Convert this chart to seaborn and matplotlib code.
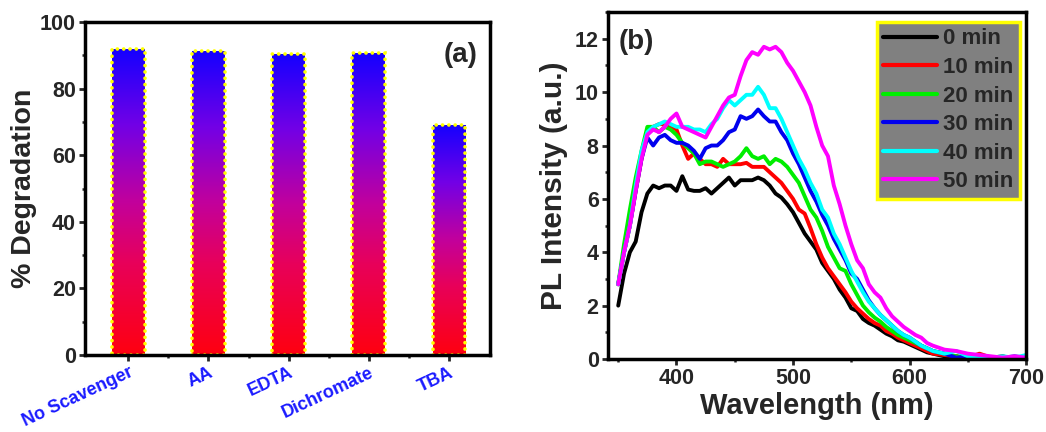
import numpy as np
import pandas as pd
import seaborn as sns
import matplotlib.pyplot as plt
from matplotlib.colors import LinearSegmentedColormap
from matplotlib.ticker import MultipleLocator, FixedLocator

# panel (a): scavenger test
categories = ['No Scavenger', 'AA', 'EDTA', 'Dichromate', 'TBA']
degradation = [92.0, 91.3, 90.5, 90.6, 69.2]

# panel (b): PL spectra
wavelength = [350, 355, 360, 365, 370, 375, 380, 385, 390, 395,
              400, 405, 410, 415, 420, 425, 430, 435, 440, 445,
              450, 455, 460, 465, 470, 475, 480, 485, 490, 495,
              500, 505, 510, 515, 520, 525, 530, 535, 540, 545,
              550, 555, 560, 565, 570, 575, 580, 585, 590, 595,
              600, 605, 610, 615, 620,
              630, 640, 650, 660, 670, 680, 690, 700]
pl_0 = [2.0, 3.2, 4.0, 4.4, 5.5, 6.2, 6.5, 6.4, 6.5, 6.5,
        6.3, 6.85, 6.35, 6.3, 6.3, 6.4, 6.2, 6.4, 6.6, 6.8,
        6.5, 6.7, 6.7, 6.7, 6.8, 6.7, 6.5, 6.2, 6.05, 5.8,
        5.5, 5.1, 4.7, 4.4, 4.1, 3.6, 3.3, 3.0, 2.6, 2.3,
        1.9, 1.8, 1.5, 1.35, 1.25, 1.1, 0.95, 0.85, 0.7, 0.65,
        0.55, 0.45, 0.35, 0.25, 0.2,
        0.1, 0.1, 0.0, 0.05, 0.05, 0.1, 0.0, 0.05]
pl_10 = [2.8, 4.0, 5.0, 6.3, 7.5, 8.5, 8.7, 8.8, 8.8, 8.7,
         8.6, 8.0, 7.5, 7.7, 7.5, 7.3, 7.3, 7.2, 7.5, 7.3,
         7.3, 7.3, 7.35, 7.2, 7.2, 7.2, 7.0, 6.8, 6.6, 6.3,
         6.0, 5.6, 5.45, 4.9, 4.3, 3.8, 3.4, 3.1, 2.8, 2.5,
         2.15, 1.9, 1.7, 1.5, 1.35, 1.25, 1.05, 0.95, 0.8, 0.7,
         0.6, 0.5, 0.4, 0.3, 0.2,
         0.15, 0.1, 0.05, 0.2, 0.05, 0.05, 0.0, 0.05]
pl_20 = [2.8, 4.3, 5.6, 6.8, 7.8, 8.7, 8.7, 8.5, 8.7, 8.6,
         8.4, 8.1, 7.9, 7.7, 7.3, 7.4, 7.4, 7.3, 7.2, 7.3,
         7.4, 7.6, 7.9, 7.6, 7.5, 7.6, 7.3, 7.5, 7.4, 7.2,
         6.9, 6.6, 6.1, 5.6, 5.3, 4.8, 4.2, 3.8, 3.4, 3.3,
         2.8, 2.4, 2.0, 1.75, 1.55, 1.4, 1.2, 1.05, 0.9, 0.8,
         0.7, 0.6, 0.5, 0.4, 0.3,
         0.2, 0.1, 0.05, 0.1, 0.05, 0.05, 0.05, 0.05]
pl_30 = [2.8, 4.0, 5.0, 6.3, 7.5, 8.3, 8.0, 8.3, 8.4, 8.2,
         8.1, 8.1, 8.0, 7.8, 7.5, 7.9, 8.0, 8.0, 8.2, 8.5,
         8.6, 9.1, 9.0, 9.1, 9.35, 9.1, 8.9, 8.9, 8.5, 8.2,
         7.7, 7.3, 6.8, 6.3, 5.9, 5.4, 5.0, 4.5, 4.1, 3.7,
         3.2, 3.0, 2.6, 2.2, 1.9, 1.65, 1.45, 1.25, 1.05, 0.9,
         0.8, 0.65, 0.5, 0.4, 0.3,
         0.2, 0.05, 0.1, 0.0, 0.05, 0.05, 0.1, 0.05]
pl_40 = [2.8, 4.0, 5.0, 6.5, 7.8, 8.5, 8.7, 8.8, 8.9, 8.8,
         8.7, 8.7, 8.7, 8.6, 8.6, 8.5, 8.8, 9.0, 9.4, 9.7,
         9.5, 9.7, 9.9, 9.9, 10.2, 9.9, 9.4, 9.4, 9.0, 8.5,
         8.0, 7.5, 7.1, 6.6, 6.2, 5.6, 5.3, 4.7, 4.3, 3.8,
         3.3, 2.9, 2.5, 2.15, 1.9, 1.65, 1.45, 1.25, 1.05, 0.9,
         0.8, 0.65, 0.5, 0.4, 0.3,
         0.2, 0.3, 0.1, 0.1, 0.05, 0.1, 0.05, 0.15]
pl_50 = [2.8, 4.0, 5.0, 6.3, 7.5, 8.4, 8.6, 8.5, 8.7, 9.0,
         9.2, 8.7, 8.6, 8.5, 8.4, 8.3, 8.7, 9.1, 9.5, 9.8,
         9.9, 10.6, 11.2, 11.5, 11.4, 11.7, 11.6, 11.7, 11.5, 11.1,
         10.8, 10.4, 10.0, 9.5, 8.7, 8.0, 7.6, 6.5, 5.8, 5.0,
         4.3, 3.7, 3.4, 2.8, 2.5, 2.3, 1.9, 1.6, 1.4, 1.2,
         1.05, 0.9, 0.8, 0.6, 0.5,
         0.35, 0.3, 0.2, 0.15, 0.1, 0.05, 0.1, 0.05]
time_labels = ['0 min', '10 min', '20 min', '30 min', '40 min', '50 min']
line_colors = ['#000000', '#ff0000', '#00ee00', '#0000ee', '#00ffff', '#ff00ff']

sns.set_style('ticks')
plt.rcParams['font.family'] = ['Liberation Sans', 'DejaVu Sans']
plt.rcParams['font.weight'] = 'bold'
plt.rcParams['axes.labelweight'] = 'bold'
plt.rcParams['axes.linewidth'] = 2.5

fig = plt.figure(figsize=(10.46, 4.32), dpi=100)
ax1 = fig.add_axes([0.0813, 0.178, 0.387, 0.771])
ax2 = fig.add_axes([0.581, 0.169, 0.400, 0.803])

# ---- (a) bars with vertical red->magenta->blue gradient
sns.barplot(x=categories, y=degradation, ax=ax1, width=0.41, color='red')
cmap = LinearSegmentedColormap.from_list(
    'rb', [(0.0, '#ff0010'), (0.3, '#e8005a'), (0.5, '#c2009c'),
           (0.75, '#7200e6'), (1.0, '#1400ff')])
grad = np.linspace(0, 1, 256).reshape(-1, 1)
for p in ax1.patches:
    x0, w, h = p.get_x(), p.get_width(), p.get_height()
    im = ax1.imshow(grad, cmap=cmap, origin='lower', aspect='auto',
                    extent=[x0, x0 + w, 0, h], zorder=1)
    im.set_clip_path(p)
    p.set_facecolor('none')
    p.set_edgecolor('#ffff00')
    p.set_linestyle((0, (0.05, 1.7)))
    p.set_capstyle('round')
    p.set_linewidth(2.6)
    p.set_zorder(2)
ax1.set_xlim(-0.54, 4.51)
ax1.set_ylim(0, 100)
ax1.xaxis.set_minor_locator(FixedLocator([0.5, 1.5, 2.5, 3.5]))
ax1.yaxis.set_major_locator(MultipleLocator(20))
ax1.yaxis.set_minor_locator(MultipleLocator(10))
ax1.set_ylabel('% Degradation', fontsize=20.5, labelpad=2)
ax1.set_xlabel('')
for t in ax1.get_xticklabels():
    t.set_rotation(25)
    t.set_ha('right')
    t.set_rotation_mode('anchor')
    t.set_color('#1a1aff')
    t.set_fontsize(13)
    t.set_fontweight('bold')
ax1.tick_params(axis='y', labelsize=15.5)
ax1.text(0.97, 0.9, '(a)', transform=ax1.transAxes, ha='right', va='center',
         fontsize=20, fontweight='bold')

# ---- (b) PL spectra
series = [pl_0, pl_10, pl_20, pl_30, pl_40, pl_50]
df = pd.concat([pd.DataFrame({'wl': wavelength, 'I': s, 'time': lab})
                for s, lab in zip(series, time_labels)], ignore_index=True)
sns.lineplot(data=df, x='wl', y='I', hue='time', hue_order=time_labels,
             palette=line_colors, linewidth=2.8, ax=ax2, legend=True)
ax2.set_xlim(341, 700)
ax2.set_ylim(0, 13)
ax2.xaxis.set_major_locator(MultipleLocator(100))
ax2.xaxis.set_minor_locator(MultipleLocator(50))
ax2.yaxis.set_major_locator(MultipleLocator(2))
ax2.yaxis.set_minor_locator(MultipleLocator(1))
ax2.set_xlabel('Wavelength (nm)', fontsize=21, labelpad=2)
ax2.set_ylabel('PL Intensity (a.u.)', fontsize=21.5, labelpad=5)
ax2.tick_params(labelsize=15.5)
ax2.text(0.025, 0.915, '(b)', transform=ax2.transAxes, ha='left', va='center',
         fontsize=20, fontweight='bold')

old = ax2.get_legend()
handles = old.legend_handles
labels = [t.get_text() for t in old.get_texts()]
leg = ax2.legend(handles, labels, loc='upper right', bbox_to_anchor=(0.986, 0.972),
                 facecolor='#808080', edgecolor='#ffff00', framealpha=1,
                 fancybox=False, fontsize=16, handlelength=2.4,
                 labelspacing=0.34, borderpad=0.3, handletextpad=0.3,
                 borderaxespad=0.0)
leg.get_frame().set_linewidth(2.5)
for h in leg.legend_handles:
    h.set_linewidth(3)
for t in leg.get_texts():
    t.set_fontweight('bold')

for ax in (ax1, ax2):
    ax.tick_params(which='major', direction='out', length=4, width=2, pad=2.5)
    ax.tick_params(which='minor', direction='out', length=2.5, width=1.8)
    for s in ax.spines.values():
        s.set_linewidth(2.5)
        s.set_color('black')
    for t in ax.get_yticklabels() + ax.get_xticklabels():
        t.set_fontweight('bold')

fig.savefig('out.png', dpi=100)
